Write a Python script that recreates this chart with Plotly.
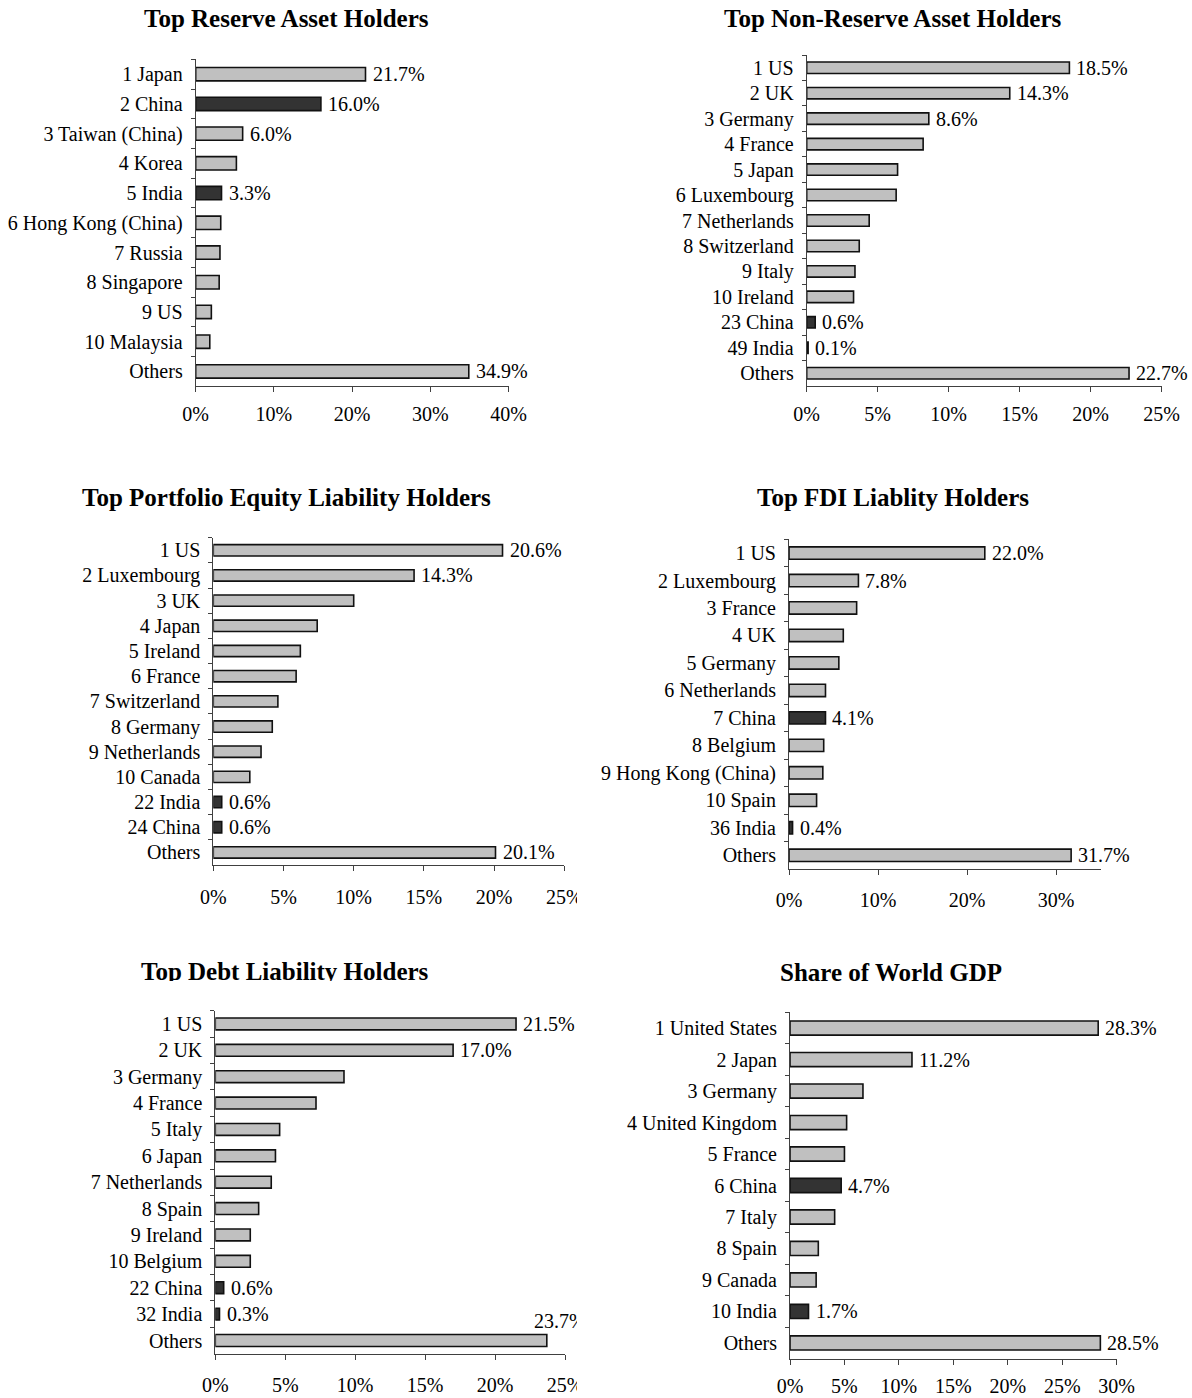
import plotly.graph_objects as go

W, H = 1192, 1398
FONT = "Liberation Serif"
LIGHT = "#c0c0c0"
DARK = "#333333"

# ---- data -------------------------------------------------------------
reserve_cats = ["1 Japan", "2 China", "3 Taiwan (China)", "4 Korea", "5 India",
                "6 Hong Kong (China)", "7 Russia", "8 Singapore", "9 US",
                "10 Malaysia", "Others"]
reserve_vals = [21.7, 16.0, 6.0, 5.2, 3.3, 3.2, 3.1, 3.0, 2.0, 1.8, 34.9]
reserve_labeled = ["1 Japan", "2 China", "3 Taiwan (China)", "5 India", "Others"]

nonres_cats = ["1 US", "2 UK", "3 Germany", "4 France", "5 Japan", "6 Luxembourg",
               "7 Netherlands", "8 Switzerland", "9 Italy", "10 Ireland",
               "23 China", "49 India", "Others"]
nonres_vals = [18.5, 14.3, 8.6, 8.2, 6.4, 6.3, 4.4, 3.7, 3.4, 3.3, 0.6, 0.1, 22.7]
nonres_labeled = ["1 US", "2 UK", "3 Germany", "23 China", "49 India", "Others"]

equity_cats = ["1 US", "2 Luxembourg", "3 UK", "4 Japan", "5 Ireland", "6 France",
               "7 Switzerland", "8 Germany", "9 Netherlands", "10 Canada",
               "22 India", "24 China", "Others"]
equity_vals = [20.6, 14.3, 10.0, 7.4, 6.2, 5.9, 4.6, 4.2, 3.4, 2.6, 0.6, 0.6, 20.1]
equity_labeled = ["1 US", "2 Luxembourg", "22 India", "24 China", "Others"]

fdi_cats = ["1 US", "2 Luxembourg", "3 France", "4 UK", "5 Germany", "6 Netherlands",
            "7 China", "8 Belgium", "9 Hong Kong (China)", "10 Spain", "36 India",
            "Others"]
fdi_vals = [22.0, 7.8, 7.6, 6.1, 5.6, 4.1, 4.1, 3.9, 3.8, 3.1, 0.4, 31.7]
fdi_labeled = ["1 US", "2 Luxembourg", "7 China", "36 India", "Others"]

debt_cats = ["1 US", "2 UK", "3 Germany", "4 France", "5 Italy", "6 Japan",
             "7 Netherlands", "8 Spain", "9 Ireland", "10 Belgium", "22 China",
             "32 India", "Others"]
debt_vals = [21.5, 17.0, 9.2, 7.2, 4.6, 4.3, 4.0, 3.1, 2.5, 2.5, 0.6, 0.3, 23.7]
debt_labeled = ["1 US", "2 UK", "22 China", "32 India", "Others"]

gdp_cats = ["1 United States", "2 Japan", "3 Germany", "4 United Kingdom",
            "5 France", "6 China", "7 Italy", "8 Spain", "9 Canada", "10 India",
            "Others"]
gdp_vals = [28.3, 11.2, 6.7, 5.2, 5.0, 4.7, 4.1, 2.6, 2.4, 1.7, 28.5]
gdp_labeled = ["1 United States", "2 Japan", "6 China", "10 India", "Others"]

# ---- panel geometry (pixels: left, top, right, bottom of plot area) ----
panels = [
    dict(title="Top Reserve Asset Holders", cats=reserve_cats, vals=reserve_vals,
         labeled=reserve_labeled, xmax=40, ticks=[0, 10, 20, 30, 40],
         box=(195.7, 59.3, 508.7, 386.3), tpos=(286, 18.5), standoff=5),
    dict(title="Top Non-Reserve Asset Holders", cats=nonres_cats, vals=nonres_vals,
         labeled=nonres_labeled, xmax=25, ticks=[0, 5, 10, 15, 20, 25],
         box=(806.7, 55, 1161.7, 386), tpos=(893, 18.5), standoff=5),
    dict(title="Top Portfolio Equity Liability Holders", cats=equity_cats,
         vals=equity_vals, labeled=equity_labeled, xmax=25,
         ticks=[0, 5, 10, 15, 20, 25], box=(213.3, 537.7, 564.3, 865),
         tpos=(286, 497.5), standoff=9),
    dict(title="Top FDI Liablity Holders", cats=fdi_cats, vals=fdi_vals,
         labeled=fdi_labeled, xmax=35, ticks=[0, 10, 20, 30],
         box=(789, 539.3, 1100.5, 869), tpos=(892.5, 497.5), standoff=8),
    dict(title="Top Debt Liability Holders", cats=debt_cats, vals=debt_vals,
         labeled=debt_labeled, xmax=25, ticks=[0, 5, 10, 15, 20, 25],
         box=(215.3, 1010.7, 565, 1353.7), tpos=(285, 972), standoff=8),
    dict(title="Share of World GDP", cats=gdp_cats, vals=gdp_vals,
         labeled=gdp_labeled, xmax=30, ticks=[0, 5, 10, 15, 20, 25, 30],
         box=(790, 1012.3, 1116.7, 1358.7), tpos=(891, 972.5), standoff=4),
]


def px_x(x):
    return x / W


def px_y(y):
    return 1 - y / H


fig = go.Figure()
layout = dict(
    width=W, height=H, margin=dict(l=0, r=0, t=0, b=0, pad=0),
    paper_bgcolor="white", plot_bgcolor="white",
    font=dict(family=FONT, size=20, color="black"),
    showlegend=False, bargap=0.55,
)
annotations = []

for i, p in enumerate(panels, 1):
    xa = "x" if i == 1 else f"x{i}"
    ya = "y" if i == 1 else f"y{i}"
    n = len(p["cats"])
    colors = [DARK if c.split(" ", 1)[-1] in ("China", "India") else LIGHT
              for c in p["cats"]]
    fig.add_trace(go.Bar(
        x=p["vals"], y=p["cats"], orientation="h", xaxis=xa, yaxis=ya,
        marker=dict(color=colors, line=dict(color="#111111", width=1.6)),
        hoverinfo="skip", showlegend=False,
    ))
    l, t, r, b = p["box"]
    suffix = str(i) if i > 1 else ""
    layout[f"xaxis{suffix}"] = dict(
        domain=[px_x(l), px_x(r)], anchor=ya, range=[0, p["xmax"]],
        automargin=False,
        tickvals=p["ticks"], ticktext=[f"{v}%" for v in p["ticks"]],
        showgrid=False, zeroline=False, showline=True, linecolor="#404040",
        linewidth=1, ticks="outside", ticklen=5, tickcolor="#404040",
        ticklabelstandoff=p["standoff"], tickfont=dict(family=FONT, size=20),
        fixedrange=True,
    )
    layout[f"yaxis{suffix}"] = dict(
        domain=[px_y(b), px_y(t)], anchor=xa, type="category",
        automargin=False,
        categoryorder="array", categoryarray=p["cats"],
        range=[n - 0.5, -0.5], showgrid=False, zeroline=False, showline=True,
        linecolor="#404040", linewidth=1, ticks="outside", tickson="boundaries",
        ticklen=4, tickcolor="#404040", ticklabelstandoff=8,
        tickfont=dict(family=FONT, size=20), fixedrange=True,
    )
    annotations.append(dict(
        xref="paper", yref="paper", x=px_x(p["tpos"][0]), y=px_y(p["tpos"][1]),
        xanchor="center", yanchor="middle", showarrow=False,
        text=f"<b>{p['title']}</b>", font=dict(family=FONT, size=25),
    ))
    # value labels for the highlighted bars
    for c, v in zip(p["cats"], p["vals"]):
        if c not in p["labeled"]:
            continue
        if i == 5 and c == "Others":
            annotations.append(dict(
                xref=xa, yref=ya, x=v, y=c, xanchor="left", yanchor="middle",
                yshift=20, xshift=-15, showarrow=False, text=f"{v:.1f}%",
                font=dict(family=FONT, size=20)))
        else:
            annotations.append(dict(
                xref=xa, yref=ya, x=v, y=c, xanchor="left", yanchor="middle",
                xshift=5, showarrow=False, text=f"{v:.1f}%",
                font=dict(family=FONT, size=20)))

# white masks trimming the right edge of the left-hand column and the
# lower edge of the debt-panel heading
masks = [
    (577, 470, 596, 950),
    (577, 950, 596, 1398),
    (110, 981, 470, 996),
]
for x0, y0, x1, y1 in masks:
    annotations.append(dict(
        xref="paper", yref="paper", x=px_x((x0 + x1) / 2), y=px_y((y0 + y1) / 2),
        xanchor="center", yanchor="middle", showarrow=False, text=" ",
        width=x1 - x0, height=y1 - y0, bgcolor="white", borderpad=0,
        borderwidth=0, font=dict(size=1)))

layout["annotations"] = annotations
fig.update_layout(**layout)
fig.write_html("out.html")
